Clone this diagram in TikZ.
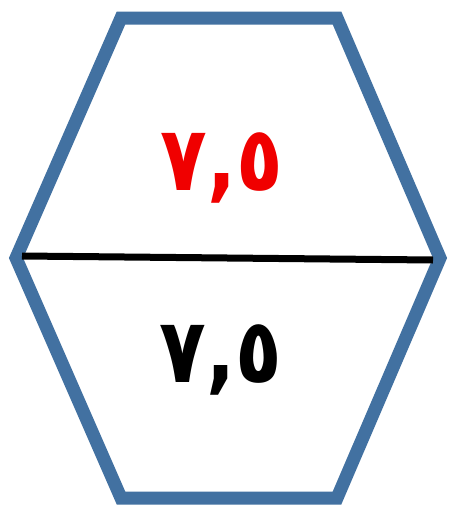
\documentclass[tikz,border=0pt]{standalone}
\usepackage{fontspec}
\newfontfamily\arabicfont[Script=Arabic]{DejaVu Sans}
\definecolor{hexblue}{RGB}{66,113,161}
\definecolor{numred}{RGB}{240,0,0}
\begin{document}
\begin{tikzpicture}[x=1pt,y=-1pt,
  hexline/.style={draw=hexblue,line width=13pt,line join=miter},
  midline/.style={draw=black,line width=7pt},
  numtext/.style={font=\arabicfont\bfseries\fontsize{90}{100}\selectfont,inner sep=0pt}]
\useasboundingbox (0,0) rectangle (449,506);
\fill[white] (0,0) rectangle (449,506);
\coordinate (tl) at (121,18);
\coordinate (tr) at (337,18);
\coordinate (r) at (440,258);
\coordinate (br) at (337,498);
\coordinate (bl) at (121,498);
\coordinate (l) at (16,258);
\draw[hexline] (tl) -- (tr) -- (r) -- (br) -- (bl) -- (l) -- cycle;
\coordinate (ml) at (22,256);
\coordinate (mr) at (433,260);
\draw[midline] (ml) -- (mr);
\node[numtext,text=numred] (top) at (222,168) {\scalebox{0.85}[1]{٧,٥}};
\node[numtext,text=black] (bot) at (221,360) {\scalebox{0.85}[1]{٧,٥}};
\end{tikzpicture}
\end{document}
